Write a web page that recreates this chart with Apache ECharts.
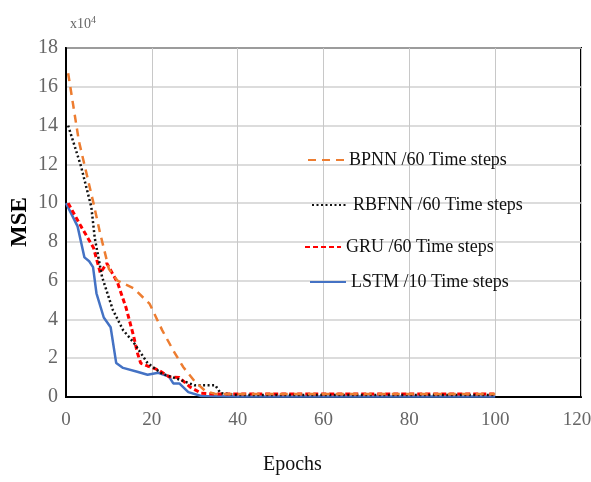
<!DOCTYPE html>
<html><head><meta charset="utf-8">
<script src="https://cdn.jsdelivr.net/npm/echarts@6/dist/echarts.min.js"></script>
<style>html,body{margin:0;padding:0;background:#fff}#c{width:591px;height:482px}</style>
</head><body><div id="c"></div>
<script>
// values in units of 1e4
var seriesNames = ['BPNN /60 Time steps','RBFNN /60 Time steps','GRU /60 Time steps','LSTM /10 Time steps'];
var bpnn = [[0.5,16.7],[3,13.2],[6.4,10],[8,8.4],[10,6.6],[12,6.0],[15.8,5.6],[19.5,4.8],[22.4,3.45],[25,2.4],[27.3,1.55],[30,0.8],[32.5,0.3],[35,0.15],[40,0.15],[60,0.15],[80,0.15],[100,0.15]];
var rbfnn = [[0.5,14],[3.5,11.9],[5.9,9.8],[6.7,8.2],[8.4,6.2],[10.9,4.5],[13.3,3.45],[15.8,2.8],[19,1.75],[22.4,1.2],[26.4,0.9],[30,0.6],[34.8,0.6],[36,0.2],[40,0.1],[60,0.1],[80,0.1],[100,0.1]];
var gru = [[0.5,10],[3.5,8.8],[6.4,7.7],[8,6.4],[9.5,6.9],[12,5.9],[14,4.6],[15.8,3.1],[16.6,2.3],[17.4,1.75],[19,1.6],[21.5,1.4],[24,1.05],[26.4,1.0],[29,0.5],[31.5,0.2],[35,0.15],[40,0.15],[60,0.15],[80,0.15],[100,0.15]];
var lstm = [[0,10],[2.7,8.8],[4.3,7.2],[5.4,7.0],[6.3,6.7],[7.1,5.35],[8.8,4.1],[10.4,3.6],[11.7,1.75],[13.3,1.5],[16.6,1.3],[19,1.15],[21.5,1.25],[24,1.05],[25,0.7],[26.4,0.7],[28.5,0.25],[31.5,0.05],[40,0.03],[60,0.03],[80,0.03],[100,0.03]];
var xTicks = {min:0,max:120,interval:20};
var yTicks = {min:0,max:18,interval:2};

var font = 'Liberation Serif';
var chart = echarts.init(document.getElementById('c'));
var styles = [
  {color:'#ED7D31', width:2.5, type:[8,6]},
  {color:'#111111', width:2.5, type:[2,2.5]},
  {color:'#FF0000', width:3, type:[5,3]},
  {color:'#4472C4', width:2.5, type:'solid'}
];
var datas = [bpnn, rbfnn, gru, lstm];
var legendTops = [146, 191, 233, 268];
var legendLefts = [302, 306, 299, 304];
chart.setOption({
  animation:false,
  grid:{left:66,right:10,top:48,bottom:85,show:true,borderColor:'#000',borderWidth:2,containLabel:false,outerBoundsMode:'none'},
  xAxis:{type:'value',min:xTicks.min,max:xTicks.max,interval:xTicks.interval,
    axisLine:{lineStyle:{color:'#000',width:2}},axisTick:{show:false},
    axisLabel:{fontFamily:font,fontSize:19,color:'#666',margin:14,
      formatter:function(v){return v===xTicks.max?'{r|'+v+'}':String(v);},
      rich:{r:{fontFamily:font,fontSize:19,color:'#666',padding:[0,8,0,0]}}},
    splitLine:{show:true,lineStyle:{color:'#c8c8c8',width:1}}},
  yAxis:{type:'value',min:yTicks.min,max:yTicks.max,interval:yTicks.interval,
    axisLine:{show:true,lineStyle:{color:'#000',width:2}},axisTick:{show:false},
    axisLabel:{fontFamily:font,fontSize:20,color:'#666',margin:8},
    splitLine:{show:true,lineStyle:{color:'#d0d0d0',width:1.5}}},
  legend: seriesNames.map(function(n,i){return {data:[n],left:legendLefts[i],top:legendTops[i],
    itemWidth:36,itemHeight:14,itemGap:4,
    itemStyle:{opacity:0},
    textStyle:{fontFamily:font,fontSize:18,color:'#111'}};}),
  graphic:[
    {type:'text',left:70,top:15,style:{text:'x10{s|4}',rich:{s:{fontSize:10,verticalAlign:'top',fontFamily:font,fill:'#666',padding:[0,0,8,0]}},fontFamily:font,fontSize:14,fill:'#666'}},
    {type:'text',left:263,top:455,style:{text:'Epochs',fontFamily:font,fontSize:20,fill:'#111'}},
    {type:'text',x:20,y:222,rotation:Math.PI/2,style:{text:'MSE',fontFamily:font,fontSize:23,fontWeight:'bold',fill:'#000',align:'center',verticalAlign:'middle'}}
  ],
  series: seriesNames.map(function(n,i){return {name:n,type:'line',data:datas[i],symbol:'none',
    lineStyle:styles[i],itemStyle:{color:styles[i].color},z:10-i};})
});
</script></body></html>
